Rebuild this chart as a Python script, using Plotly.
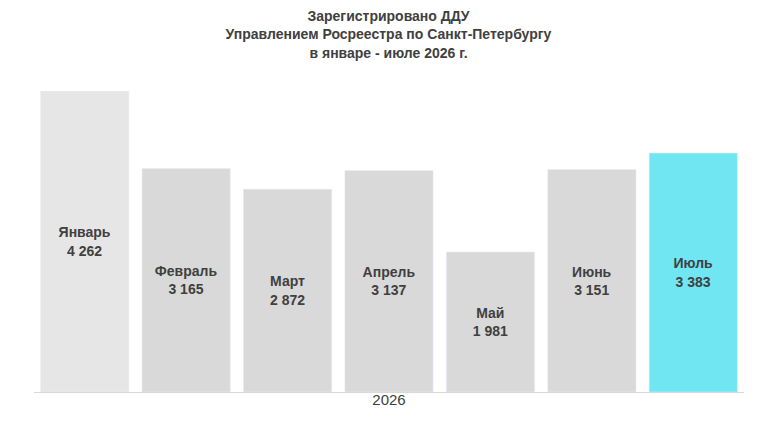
import plotly.graph_objects as go

months = ["Январь", "Февраль", "Март", "Апрель", "Май", "Июнь", "Июль"]
values = [4262, 3165, 2872, 3137, 1981, 3151, 3383]
colors = ["#e6e6e6", "#d9d9d9", "#d9d9d9", "#d9d9d9", "#d9d9d9", "#d9d9d9", "#6fe6f2"]

labels = [f"<b>{m}<br>{v:,}</b>".replace(",", " ") for m, v in zip(months, values)]

fig = go.Figure(go.Bar(
    x=months, y=values, text=labels, marker_color=colors,
    textposition="inside", insidetextanchor="middle", textangle=0,
    textfont=dict(family="Liberation Sans, Arial", size=14, color="#404040"),
    hoverinfo="skip",
))
fig.update_layout(
    width=761, height=437,
    paper_bgcolor="white", plot_bgcolor="white",
    margin=dict(l=26, r=25, t=83, b=53),
    bargap=0.13,
    showlegend=False,
    title=dict(
        text="<b>Зарегистрировано ДДУ<br>Управлением Росреестра по Санкт-Петербургу<br>в январе - июле 2026 г.</b>",
        x=0.5, xanchor="center", y=0.97, yanchor="top",
        font=dict(family="Liberation Sans, Arial", size=14, color="#404040"),
    ),
    xaxis=dict(showticklabels=False, showline=True, linecolor="#d9d9d9",
               title=dict(text="2026", standoff=2,
                          font=dict(family="Liberation Sans, Arial", size=15, color="#404040"))),
    yaxis=dict(range=[0, 4262], visible=False),
)
fig.write_html("out.html")
